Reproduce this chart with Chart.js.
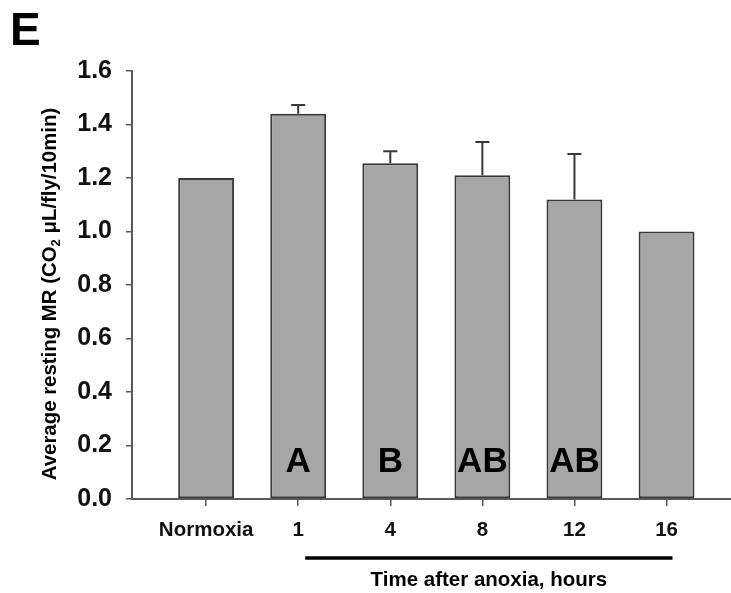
<!DOCTYPE html>
<html>
<head>
<meta charset="utf-8">
<title>Average resting MR</title>
<script src="https://cdn.jsdelivr.net/npm/chart.js@4/dist/chart.umd.min.js"></script>
<style>
  html, body { margin: 0; padding: 0; background: #ffffff; }
  #wrap { width: 731px; height: 593px; position: relative; }
</style>
</head>
<body>
<div id="wrap"><canvas id="c" width="731" height="593"></canvas></div>
<script>
// Groups: normoxic control, then hours after anoxia
const categories = ['Normoxia', '1', '4', '8', '12', '16'];
// Mean resting metabolic rate (CO2 µL/fly/10min)
const meanRate = [1.20, 1.44, 1.255, 1.21, 1.12, 1.00];
// Standard error (upper whisker only)
const stdError = [0, 0.033, 0.045, 0.125, 0.17, 0];
// Significance letters printed inside the bars
const groupLetters = ['', 'A', 'B', 'AB', 'AB', ''];
// Y axis tick values
const yTicks = [0, 0.2, 0.4, 0.6, 0.8, 1.0, 1.2, 1.4, 1.6];

const FONT = '"Liberation Sans", Arial, Helvetica, sans-serif';
const AXIS = '#5a5a5a';

const annotate = {
  id: 'annotate',
  afterDatasetsDraw(chart) {
    const ctx = chart.ctx;
    const xs = chart.scales.x, ys = chart.scales.y;
    const area = chart.chartArea;
    ctx.save();

    // upper error whiskers
    ctx.strokeStyle = '#383838';
    ctx.lineWidth = 2;
    meanRate.forEach((m, i) => {
      if (!stdError[i]) return;
      const x = xs.getPixelForValue(i + 1);
      const y0 = ys.getPixelForValue(m);
      const y1 = ys.getPixelForValue(m + stdError[i]);
      ctx.beginPath();
      ctx.moveTo(x, y0);
      ctx.lineTo(x, y1);
      ctx.moveTo(x - 7, y1);
      ctx.lineTo(x + 7, y1);
      ctx.stroke();
    });

    // significance letters
    ctx.fillStyle = '#000';
    ctx.font = 'bold 35px ' + FONT;
    ctx.textAlign = 'center';
    ctx.textBaseline = 'alphabetic';
    groupLetters.forEach((t, i) => {
      if (!t) return;
      ctx.fillText(t, xs.getPixelForValue(i + 1), ys.getPixelForValue(0.1));
    });

    // bracket under the post-anoxia groups
    const bx0 = xs.getPixelForValue(2) + 7;
    const bx1 = xs.getPixelForValue(6) + 6;
    const by = area.bottom + 59;
    ctx.strokeStyle = '#000';
    ctx.lineWidth = 3.5;
    ctx.beginPath();
    ctx.moveTo(bx0, by);
    ctx.lineTo(bx1, by);
    ctx.stroke();

    ctx.font = 'bold 20.5px ' + FONT;
    ctx.fillText('Time after anoxia, hours', (bx0 + bx1) / 2, by + 28);

    // panel letter
    ctx.textAlign = 'left';
    ctx.font = 'bold 46px ' + FONT;
    ctx.fillText('E', 10, 45);

    // y axis title with subscript
    const parts = [
      { t: 'Average resting MR (CO', size: 20.4, dy: 0 },
      { t: '2', size: 13, dy: 4 },
      { t: ' \u03BCL/fly/10min)', size: 20.4, dy: 0 }
    ];
    let total = 0;
    parts.forEach(p => { ctx.font = 'bold ' + p.size + 'px ' + FONT; p.w = ctx.measureText(p.t).width; total += p.w; });
    ctx.translate(56, 294);
    ctx.rotate(-Math.PI / 2);
    let cx = -total / 2;
    parts.forEach(p => {
      ctx.font = 'bold ' + p.size + 'px ' + FONT;
      ctx.fillText(p.t, cx, p.dy);
      cx += p.w;
    });
    ctx.restore();
  }
};

new Chart(document.getElementById('c'), {
  type: 'bar',
  data: {
    datasets: [{
      data: categories.map((c, i) => ({ x: i + 1, y: meanRate[i] })),
      backgroundColor: '#a6a6a6',
      borderColor: '#383838',
      borderWidth: 2,
      borderSkipped: false,
      barPercentage: 0.607,
      categoryPercentage: 1
    }]
  },
  options: {
    responsive: false,
    animation: false,
    devicePixelRatio: 1,
    layout: { padding: { top: 71, left: 0, right: 0, bottom: 0 } },
    plugins: { legend: { display: false }, tooltip: { enabled: false }, title: { display: false } },
    scales: {
      x: {
        type: 'linear',
        min: 0.195,
        max: 6.70,
        offset: false,
        afterBuildTicks: s => { s.ticks = categories.map((c, i) => ({ value: i + 1 })); },
        afterFit: s => { s.height = 94; },
        grid: { display: true, drawOnChartArea: false, drawTicks: true, tickLength: 7, color: AXIS, lineWidth: 1.5, offset: false },
        border: { display: true, color: AXIS, width: 2 },
        ticks: {
          autoSkip: false, maxRotation: 0, padding: 12, color: '#111',
          font: { family: FONT, size: 20.5, weight: 'bold' },
          callback: v => categories[Math.round(v) - 1]
        }
      },
      y: {
        type: 'linear',
        min: 0,
        max: 1.6,
        afterBuildTicks: s => { s.ticks = yTicks.map(v => ({ value: v })); },
        afterFit: s => { s.width = 132; },
        grid: { display: true, drawOnChartArea: false, drawTicks: true, tickLength: 6, color: AXIS, lineWidth: 1.5 },
        border: { display: true, color: AXIS, width: 2 },
        ticks: {
          padding: 14, color: '#111',
          font: { family: FONT, size: 25, weight: 'bold' },
          callback: v => v.toFixed(1)
        }
      }
    }
  },
  plugins: [annotate]
});
</script>
</body>
</html>
